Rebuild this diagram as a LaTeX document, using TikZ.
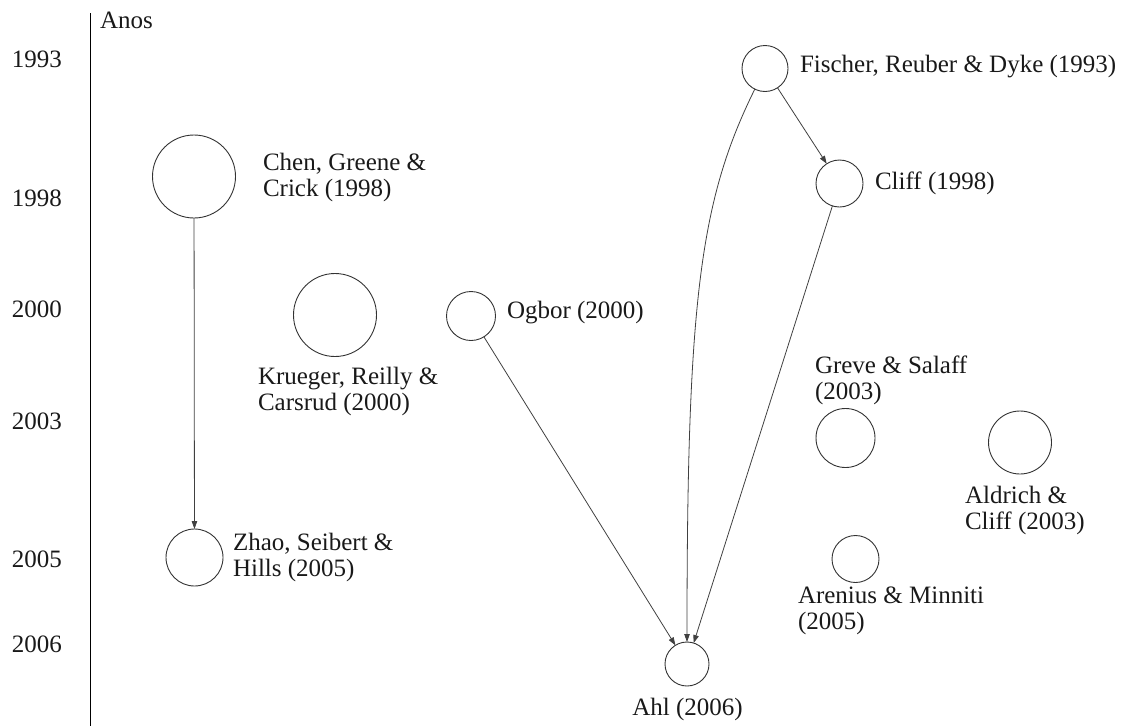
\documentclass[tikz,border=0pt]{standalone}
\usepackage{fontspec}
\setmainfont{LiberationSerif}[Extension=.ttf, UprightFont=*-Regular, BoldFont=*-Bold]
\usetikzlibrary{arrows.meta}
\begin{document}
\begin{tikzpicture}[x=1pt,y=-1pt,
  every node/.style={font=\rmfamily\fontsize{25}{26}\selectfont, inner sep=0pt, outer sep=0pt, text=black!90},
  circ/.style={circle, draw=black!80, line width=0.9pt},
  lbl/.style={anchor=base west},
  mlbl/.style={anchor=west, align=left},
  arr/.style={draw=black!75, line width=0.8pt, -{Triangle[length=8pt,width=5.5pt]}},
  axisline/.style={draw=black, line width=1.4pt}
]
\useasboundingbox (0,0) rectangle (1126,726);

% axis
\coordinate (axtop) at (90.5,13);
\coordinate (axbot) at (90.5,726);
\draw[axisline] (axtop) -- (axbot);
\node[lbl] (anos) at (100,28) {Anos};

% years
\node[lbl] (y1993) at (12,67) {1993};
\node[lbl] (y1998) at (12,206) {1998};
\node[lbl] (y2000) at (12,317) {2000};
\node[lbl] (y2003) at (12,429) {2003};
\node[lbl] (y2005) at (12,567) {2005};
\node[lbl] (y2006) at (12,652) {2006};

% circles
\node[circ, minimum size=83pt] (chen) at (194,176.5) {};
\node[circ, minimum size=83pt] (krueger) at (335,315) {};
\node[circ, minimum size=49pt] (ogbor) at (471,316) {};
\node[circ, minimum size=46pt] (fischer) at (765,68.5) {};
\node[circ, minimum size=47pt] (cliff) at (839.5,183.5) {};
\node[circ, minimum size=57pt] (zhao) at (194.5,557.5) {};
\node[circ, minimum size=44pt] (ahl) at (687,664) {};
\node[circ, minimum size=59pt] (greve) at (845.5,438) {};
\node[circ, minimum size=63pt] (aldrich) at (1020,442.5) {};
\node[circ, minimum size=47pt] (arenius) at (855.5,559) {};

% labels
\node[mlbl] (chenL) at (263,177.5) {Chen, Greene \&\\Crick (1998)};
\node[mlbl] (kruegerL) at (258,391.5) {Krueger, Reilly \&\\Carsrud (2000)};
\node[lbl] (ogborL) at (507,318) {Ogbor (2000)};
\node[lbl] (fischerL) at (800,72) {Fischer, Reuber \& Dyke (1993)};
\node[lbl] (cliffL) at (875,189) {Cliff (1998)};
\node[mlbl] (zhaoL) at (233,557) {Zhao, Seibert \&\\Hills (2005)};
\node[anchor=base] (ahlL) at (687.5,715) {Ahl (2006)};
\node[mlbl] (greveL) at (815,380.5) {Greve \& Salaff\\(2003)};
\node[mlbl] (aldrichL) at (965,510) {Aldrich \&\\Cliff (2003)};
\node[mlbl] (areniusL) at (798,611) {Arenius \& Minniti\\(2005)};

% connectors
\draw[arr] (chen) -- (zhao);
\draw[arr] (fischer) -- (cliff);
\draw[arr] (fischer) .. controls (700,200) and (687,300) .. (ahl);
\draw[arr] (cliff) -- (ahl);
\draw[arr] (ogbor) -- (ahl);
\end{tikzpicture}
\end{document}
